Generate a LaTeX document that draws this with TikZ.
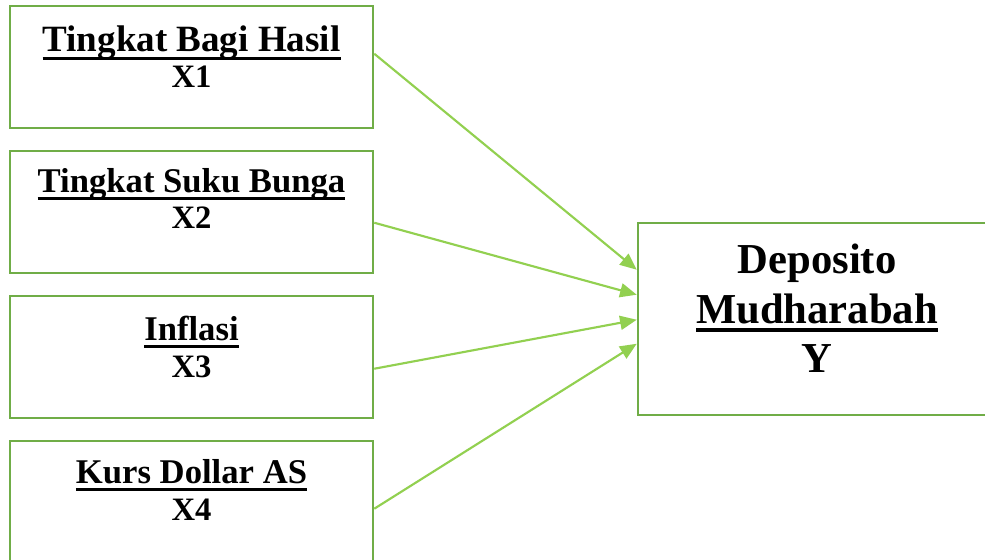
\documentclass[tikz,border=0pt]{standalone}
\usepackage{fontspec}
\setmainfont{Liberation Serif}
\usetikzlibrary{arrows.meta,calc}
\definecolor{boxgreen}{HTML}{70AD47}
\definecolor{arrowgreen}{HTML}{92D050}
\newcommand{\ulbox}[3]{\setbox0=\hbox{#3}\rlap{\vrule height -#1 depth #2 width \wd0}\box0}
\begin{document}
\begin{tikzpicture}[x=0.75pt,y=-0.75pt,
  varbox/.style={draw=boxgreen, line width=1.9pt, fill=white, minimum width=363*0.75pt, minimum height=122*0.75pt, inner sep=0pt},
  depbox/.style={draw=boxgreen, line width=1.9pt, fill=white, minimum width=363*0.75pt, minimum height=192*0.75pt, inner sep=0pt},
  lab/.style={inner sep=0pt, anchor=base, font=\bfseries\fontsize{26pt}{30pt}\selectfont},
  labbig/.style={inner sep=0pt, anchor=base, font=\bfseries\fontsize{27.8pt}{32pt}\selectfont},
  labx/.style={inner sep=0pt, anchor=base, font=\bfseries\fontsize{24.5pt}{28pt}\selectfont},
  labdep/.style={inner sep=0pt, anchor=base, font=\bfseries\fontsize{32pt}{36pt}\selectfont},
  link/.style={draw=arrowgreen, line width=1.6pt, -{Triangle[length=12.5pt,width=10.5pt]}}]
\useasboundingbox (0,0) rectangle (985,560);
\fill[white] (0,0) rectangle (985,560);
\begin{scope}
\clip (0,0) rectangle (985,560);
\node[varbox] (b1) at (191.5,67) {};
\node[varbox] (b2) at (191.5,212) {};
\node[varbox] (b3) at (191.5,357) {};
\node[varbox] (b4) at (191.5,502) {};
\node[depbox] (y) at (819.5,319) {};
\end{scope}
\node[labbig] (t1a) at (191.5,52) {\ulbox{3.75pt}{6pt}{Tingkat Bagi Hasil}};
\node[labx] (t1b) at (191.5,88) {X1};
\node[lab] (t2a) at (191.5,192) {\ulbox{3.75pt}{6pt}{Tingkat Suku Bunga}};
\node[labx] (t2b) at (191.5,228) {X2};
\node[lab] (t3a) at (191.5,340) {\ulbox{3.75pt}{6pt}{Inflasi}};
\node[labx] (t3b) at (191.5,377) {X3};
\node[lab] (t4a) at (191.5,483) {\ulbox{3.75pt}{6pt}{Kurs Dollar AS}};
\node[labx] (t4b) at (191.5,520) {X4};
\node[labdep] (ya) at (817,273) {Deposito};
\node[labdep] (yb) at (817,323) {\ulbox{3.4pt}{6.8pt}{Mudharabah}};
\node[labdep] (yc) at (817,372) {Y};
\draw[link] ($(b1.north east)+(0,49)$) -- ($(y.north west)+(0,48)$);
\draw[link] ($(b2.north east)+(0,73)$) -- ($(y.north west)+(0,73)$);
\draw[link] ($(b3.north east)+(0,74)$) -- ($(y.north west)+(0,98)$);
\draw[link] ($(b4.north east)+(0,69)$) -- ($(y.north west)+(0,122)$);
\end{tikzpicture}
\end{document}
